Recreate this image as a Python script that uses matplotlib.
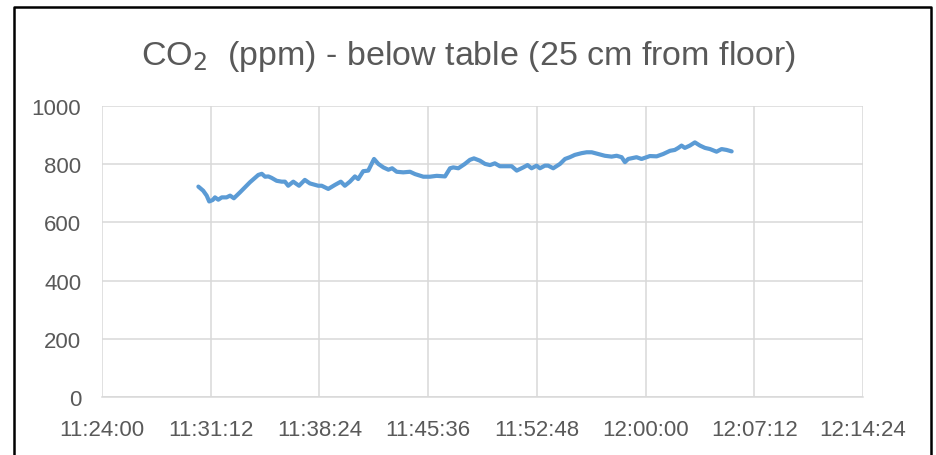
import matplotlib
matplotlib.use("Agg")
import matplotlib.pyplot as plt
import pandas as pd
from matplotlib.lines import Line2D
from matplotlib.ticker import FixedLocator

plt.rcParams['font.family'] = ['Liberation Sans', 'DejaVu Sans']

times = ["11:30:23", "11:30:42", "11:30:56", "11:31:06", "11:31:20", "11:31:29", "11:31:42",
         "11:31:56", "11:32:15", "11:32:29", "11:32:44", "11:33:08", "11:33:48", "11:34:21",
         "11:34:35", "11:34:48", "11:35:01", "11:35:14", "11:35:34", "11:35:54", "11:36:07",
         "11:36:20", "11:36:40", "11:36:53", "11:37:03", "11:37:26", "11:37:46", "11:38:19",
         "11:38:33", "11:38:59", "11:39:26", "11:39:49", "11:40:05", "11:40:25", "11:40:45",
         "11:40:58", "11:41:18", "11:41:38", "11:42:01", "11:42:18", "11:42:38", "11:42:58",
         "11:43:13", "11:43:31", "11:43:57", "11:44:24", "11:44:44", "11:45:17", "11:45:43",
         "11:46:10", "11:46:43", "11:47:03", "11:47:16", "11:47:36", "11:48:02", "11:48:22",
         "11:48:38", "11:49:02", "11:49:22", "11:49:42", "11:50:01", "11:50:21", "11:50:48",
         "11:51:08", "11:51:28", "11:51:54", "11:52:11", "11:52:27", "11:52:47", "11:53:00",
         "11:53:20", "11:53:33", "11:53:53", "11:54:20", "11:54:40", "11:54:59", "11:55:19",
         "11:55:46", "11:56:06", "11:56:26", "11:56:52", "11:57:18", "11:57:45", "11:58:05",
         "11:58:25", "11:58:38", "11:58:51", "11:59:24", "11:59:44", "12:00:04", "12:00:17",
         "12:00:44", "12:01:10", "12:01:37", "12:01:56", "12:02:10", "12:02:23", "12:02:36",
         "12:02:56", "12:03:16", "12:03:36", "12:03:56", "12:04:16", "12:04:42", "12:05:02",
         "12:05:22", "12:05:42"]
co2_ppm = [723, 709, 692, 672, 677, 686, 678,
           686, 686, 692, 683, 703, 738, 763,
           767, 757, 758, 753, 743, 740, 740,
           726, 740, 732, 726, 746, 734, 726,
           726, 715, 729, 740, 726, 740, 758,
           749, 776, 778, 818, 801, 789, 781,
           786, 774, 772, 774, 766, 757, 757,
           760, 758, 786, 789, 786, 801, 815,
           820, 812, 801, 797, 803, 793, 793,
           793, 778, 789, 797, 786, 795, 786,
           795, 795, 786, 801, 818, 824, 832,
           838, 841, 841, 835, 829, 826, 829,
           824, 807, 818, 824, 818, 824, 828,
           827, 835, 846, 849, 856, 864, 856,
           864, 875, 864, 856, 852, 843, 852,
           849, 844]
x_tick_labels = ["11:24:00", "11:31:12", "11:38:24", "11:45:36", "11:52:48",
                 "12:00:00", "12:07:12", "12:14:24"]
y_ticks = [0, 200, 400, 600, 800, 1000]
title = "CO$_2$  (ppm) - below table (25 cm from floor)"

def to_sec(s):
    return pd.to_timedelta(s).total_seconds()

xs = [to_sec(t) for t in times]
xt = [to_sec(t) for t in x_tick_labels]

W, H = 936, 456
fig = plt.figure(figsize=(W / 100, H / 100), dpi=100)
ax = fig.add_axes([102 / W, 1 - 398 / H, (863 - 102) / W, (398 - 107) / H])

ax.plot(xs, co2_ppm, color="#5b9bd5", linewidth=3.0, solid_capstyle="round",
        solid_joinstyle="round", zorder=3)

ax.set_xlim(xt[0], xt[-1])
ax.set_ylim(0, 1000)
ax.xaxis.set_major_locator(FixedLocator(xt))
ax.set_xticklabels(x_tick_labels)
ax.set_yticks(y_ticks)
ax.set_yticklabels([str(v) for v in y_ticks])

grid_c = "#d9d9d9"
ax.grid(True, color=grid_c, linewidth=1.1)
ax.set_axisbelow(True)
for side in ["top", "right", "left"]:
    ax.spines[side].set_visible(False)
ax.spines["bottom"].set_color(grid_c)
ax.spines["bottom"].set_linewidth(1.1)
ax.tick_params(axis="both", length=0, colors="#595959", labelsize=16)
ax.tick_params(axis="y", pad=15)
ax.tick_params(axis="x", pad=16)

fig.text(0.5, 1 - 57 / H, title, ha="center", va="center", fontsize=24.5, color="#595959")

# outer chart border (cut off at bottom)
bx = [14 / W, 14 / W, 931 / W, 931 / W]
by = [0, 1 - 8 / H, 1 - 8 / H, 0]
fig.add_artist(Line2D(bx, by, transform=fig.transFigure, color="black", linewidth=1.8))

fig.savefig("out.png", dpi=100)
